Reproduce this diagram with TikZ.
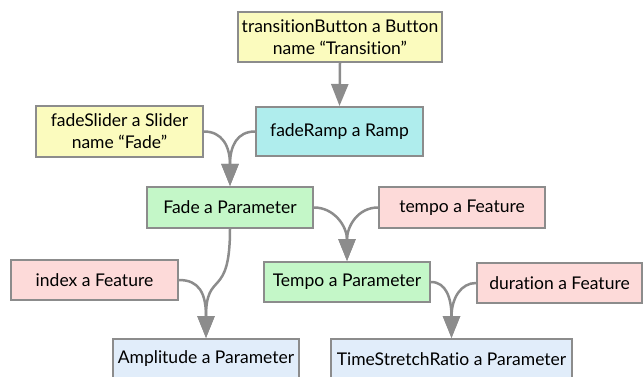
\documentclass[tikz,border=0pt]{standalone}
\usepackage{fontspec}
\setmainfont{Lato}[Ligatures={NoCommon}]
\usetikzlibrary{arrows.meta}

\definecolor{linegray}{RGB}{140,140,140}
\definecolor{btnyellow}{RGB}{251,251,190}
\definecolor{rampcyan}{RGB}{175,237,237}
\definecolor{paramgreen}{RGB}{196,247,200}
\definecolor{featpink}{RGB}{253,218,217}
\definecolor{outblue}{RGB}{225,237,250}

\tikzset{
  box/.style={draw=linegray, line width=2pt, minimum width=166pt, minimum height=40pt,
    inner sep=0pt, align=center, font=\fontsize{17.5}{22}\selectfont},
  feed/.style={draw=linegray, line width=2.5pt,
    -{Triangle[length=22pt,width=17pt,fill=linegray]}}
}

\begin{document}
\begin{tikzpicture}[x=1pt,y=-1pt]
   \useasboundingbox (0,0) rectangle (643,377);
   \node[box,fill=btnyellow,minimum width=204pt,minimum height=50pt] (button) at (340,37)
      {transitionButton a Button\\name ``Transition''};
   \node[box,fill=btnyellow,minimum width=167pt,minimum height=51pt] (slider) at (119.5,131.5)
      {fadeSlider a Slider\\name ``Fade''};
   \node[box,fill=rampcyan,minimum width=167pt,minimum height=49pt] (ramp) at (339.5,131.5) {fadeRamp a Ramp};
   \node[box,fill=paramgreen,minimum height=41pt] (fade) at (230,207.5) {Fade a Parameter};
   \node[box,fill=featpink,minimum height=41pt] (tempof) at (462,207.5) {tempo a Feature};
   \node[box,fill=featpink,minimum width=167pt] (index) at (94.5,280) {index a Feature};
   \node[box,fill=paramgreen] (tempop) at (347,282) {Tempo a Parameter};
   \node[box,fill=featpink,minimum width=165pt] (duration) at (559.5,283) {duration a Feature};
   \node[box,fill=outblue,minimum width=186pt] (amplitude) at (206,359) {Amplitude a Parameter};
   \node[box,fill=outblue,minimum width=241pt] (stretch) at (451.5,359) {TimeStretchRatio a Parameter};

   \draw[feed] (button.south) -- (ramp.north);
   \draw[feed] (slider.east) .. controls +(18,0) and +(0,-40) .. (fade.north);
   \draw[feed] (ramp.west) .. controls +(-18,0) and +(0,-40) .. (fade.north);
   \draw[feed] (fade.south) .. controls +(0,72) and +(0,-69) .. (amplitude.north);
   \draw[feed] (index.east) .. controls +(20,0) and +(0,-45) .. (amplitude.north);
   \draw[feed] (fade.east) .. controls +(20,0) and +(0,-35) .. (tempop.north);
   \draw[feed] (tempof.west) .. controls +(-20,0) and +(0,-35) .. (tempop.north);
   \draw[feed] (tempop.east) .. controls +(15,0) and +(0,-40) .. (stretch.north);
   \draw[feed] (duration.west) .. controls +(-15,0) and +(0,-40) .. (stretch.north);
\end{tikzpicture}
\end{document}
